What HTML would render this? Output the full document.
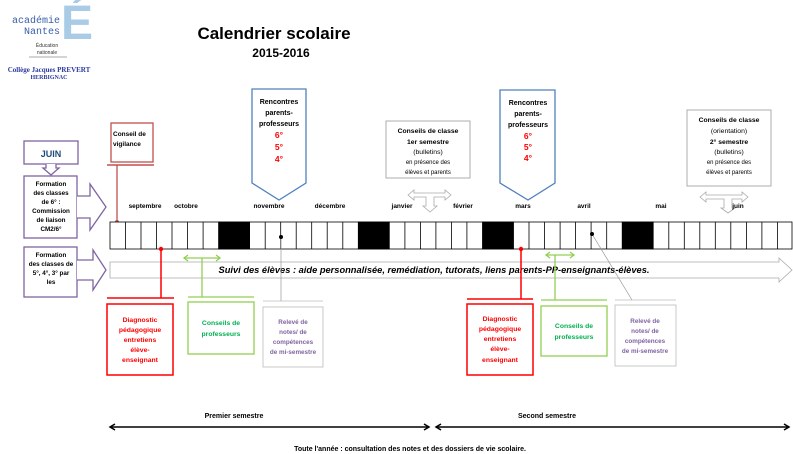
<!DOCTYPE html>
<html><head><meta charset="utf-8"><style>
html,body{margin:0;padding:0;background:#fff;}
svg{display:block;font-family:"Liberation Sans",sans-serif;}
</style></head><body>
<svg width="793" height="454" viewBox="0 0 793 454" xmlns="http://www.w3.org/2000/svg">
<!-- logo -->
<text x="77" y="39" font-size="48" font-weight="bold" fill="#a9cbe6" text-anchor="middle">É</text>
<text x="60" y="23" font-size="10" fill="#3a5fa8" text-anchor="end" font-family="Liberation Mono,monospace">académie</text>
<text x="60" y="34" font-size="10" fill="#3a5fa8" text-anchor="end" font-family="Liberation Mono,monospace">Nantes</text>
<text x="47" y="47" font-size="5" fill="#333" text-anchor="middle">Éducation</text>
<text x="47" y="54" font-size="5" fill="#333" text-anchor="middle">nationale</text>
<line x1="29" y1="57" x2="67" y2="57" stroke="#555" stroke-width="0.6"/>
<text x="49" y="72" font-size="7" font-weight="bold" fill="#2b3a9e" text-anchor="middle" font-family="Liberation Serif,serif">Collège Jacques PREVERT</text>
<text x="49" y="79" font-size="6" font-weight="bold" fill="#2b3a9e" text-anchor="middle" font-family="Liberation Serif,serif">HERBIGNAC</text>
<!-- title -->
<text x="274" y="39" font-size="17" font-weight="bold" text-anchor="middle">Calendrier scolaire</text>
<text x="281" y="57" font-size="12" font-weight="bold" text-anchor="middle">2015-2016</text>

<!-- purple boxes -->
<g stroke="#8064a2" stroke-width="1.3" fill="#fff">
<rect x="24" y="141" width="54" height="23"/>
<path d="M46 164 L46 168 L43 168 L51 175 L59 168 L56 168 L56 164"/>
<rect x="24" y="176" width="53" height="62"/>
<path d="M77 196 L90 196 L90 184 L106 207 L90 230 L90 218 L77 218"/>
<rect x="24" y="247" width="53" height="50"/>
<path d="M77 260 L93 260 L93 250 L106 270 L93 290 L93 280 L77 280"/>
</g>
<text x="51" y="157" font-size="9" font-weight="bold" fill="#1f497d" text-anchor="middle">JUIN</text>
<g font-size="6.3" font-weight="bold" text-anchor="middle">
<text x="51" y="186">Formation</text><text x="51" y="195">des classes</text><text x="51" y="204">de 6° :</text><text x="51" y="213">Commission</text><text x="51" y="222">de liaison</text><text x="51" y="231">CM2/6°</text>
<text x="51" y="257">Formation</text><text x="51" y="266">des classes de</text><text x="51" y="275">5°, 4°, 3° par</text><text x="51" y="284">les</text>
</g>

<!-- conseil de vigilance -->
<rect x="111" y="123" width="42" height="39" fill="#fff" stroke="#c0504d" stroke-width="1.3"/>
<line x1="107" y1="165" x2="154" y2="165" stroke="#c0504d" stroke-width="1.5"/>
<line x1="117" y1="165" x2="117" y2="222" stroke="#c0504d" stroke-width="1.3"/>
<circle cx="117" cy="222" r="2" fill="#c0504d"/>
<text x="113" y="136" font-size="6.5" font-weight="bold">Conseil de</text>
<text x="113" y="146" font-size="6.5" font-weight="bold">vigilance</text>

<!-- rencontres -->
<g stroke="#4f81bd" stroke-width="1.3" fill="#fff">
<path d="M252 89 L306 89 L306 183 L279 200 L252 183 Z"/>
<path d="M500 90 L555 90 L555 183 L528 200 L500 183 Z"/>
</g>
<g font-size="7" font-weight="bold" text-anchor="middle">
<text x="279" y="104">Rencontres</text><text x="279" y="115">parents-</text><text x="279" y="126">professeurs</text>
<text x="528" y="105">Rencontres</text><text x="528" y="116">parents-</text><text x="528" y="127">professeurs</text>
</g>
<g font-size="8.5" font-weight="bold" fill="#ff0000" text-anchor="middle">
<text x="279" y="138">6°</text><text x="279" y="150">5°</text><text x="279" y="162">4°</text>
<text x="528" y="139">6°</text><text x="528" y="150">5°</text><text x="528" y="161">4°</text>
</g>

<!-- conseils de classe -->
<rect x="386" y="121" width="84" height="57" fill="#fff" stroke="#999" stroke-width="0.8"/>
<rect x="687" y="110" width="84" height="76" fill="#fff" stroke="#999" stroke-width="0.8"/>
<g text-anchor="middle">
<text x="428" y="133" font-size="6.8" font-weight="bold">Conseils de classe</text>
<text x="428" y="144" font-size="6.8" font-weight="bold">1er semestre</text>
<text x="428" y="154" font-size="6.8">(bulletins)</text>
<text x="428" y="164" font-size="6">en présence des</text>
<text x="428" y="174" font-size="6">élèves et parents</text>
<text x="729" y="122" font-size="6.8" font-weight="bold">Conseils de classe</text>
<text x="729" y="133" font-size="6.8">(orientation)</text>
<text x="729" y="144" font-size="6.8" font-weight="bold">2° semestre</text>
<text x="729" y="154" font-size="6.8">(bulletins)</text>
<text x="729" y="164" font-size="6">en présence des</text>
<text x="729" y="174" font-size="6">élèves et parents</text>
</g>
<!-- small hollow arrows -->
<g fill="#fff" stroke="#aaa" stroke-width="0.8">
<path d="M408 195 L414 190 L414 193 L445 193 L445 190 L451 195 L445 200 L445 197 L434 197 L434 206 L437 206 L430 212 L423 206 L426 206 L426 197 L414 197 L414 200 Z"/>
<path d="M700 197 L706 192 L706 195 L742 195 L742 192 L748 197 L742 202 L742 199 L732 199 L732 208 L735 208 L728 213 L721 208 L724 208 L724 199 L706 199 L706 202 Z"/>
</g>

<!-- months -->
<g font-size="6.5" font-weight="bold" text-anchor="middle">
<text x="145" y="208">septembre</text><text x="186" y="208">octobre</text><text x="269" y="208">novembre</text><text x="330" y="208">décembre</text>
<text x="402" y="208">janvier</text><text x="463" y="208">février</text><text x="523" y="208">mars</text><text x="584" y="208">avril</text><text x="661" y="208">mai</text><text x="738" y="208">juin</text>
</g>

<!-- timeline -->
<g stroke="#000" stroke-width="0.8">
<rect x="110" y="222" width="682" height="27" fill="#fff"/>
<rect x="218.6" y="222" width="31" height="27" fill="#000"/>
<rect x="358.3" y="222" width="31" height="27" fill="#000"/>
<rect x="482.5" y="222" width="31" height="27" fill="#000"/>
<rect x="622.2" y="222" width="31" height="27" fill="#000"/>
<path d="M125.5 222v27M141 222v27M156.5 222v27M172 222v27M187.6 222v27M203.1 222v27M234.1 222v27M265.2 222v27M280.7 222v27M296.2 222v27M311.7 222v27M327.2 222v27M342.8 222v27M373.8 222v27M404.9 222v27M420.4 222v27M435.9 222v27M451.4 222v27M466.9 222v27M498 222v27M529 222v27M544.6 222v27M560.1 222v27M575.6 222v27M591.1 222v27M606.7 222v27M637.7 222v27M668.8 222v27M684.3 222v27M699.8 222v27M715.3 222v27M730.8 222v27M746.4 222v27M761.9 222v27M777.4 222v27"/>
</g>

<!-- suivi arrow -->
<path d="M110 262 L779 262 L779 258 L792 270 L779 282 L779 278 L110 278 Z" fill="#fff" stroke="#aaa" stroke-width="0.8"/>
<text x="434" y="273" font-size="9.3" font-weight="bold" font-style="italic" text-anchor="middle">Suivi des élèves :  aide personnalisée, remédiation, tutorats, liens parents-PP-enseignants-élèves.</text>

<!-- semester 1 lower -->
<line x1="161" y1="249" x2="161" y2="298" stroke="#ff0000" stroke-width="1.5"/>
<circle cx="161" cy="249" r="2.2" fill="#ff0000"/>
<line x1="107" y1="298" x2="174" y2="298" stroke="#ff0000" stroke-width="1.5"/>
<rect x="107" y="304" width="66" height="71" fill="#fff" stroke="#ff0000" stroke-width="1.5"/>
<g stroke="#92d050" stroke-width="1.3" fill="none">
<line x1="184" y1="258" x2="220" y2="258"/><path d="M188 255 L184 258 L188 261 M216 255 L220 258 L216 261"/>
<line x1="202" y1="258" x2="202" y2="297"/><line x1="188" y1="297" x2="254" y2="297"/>
<rect x="188" y="302" width="66" height="52"/>
</g>
<line x1="281" y1="237" x2="281" y2="301" stroke="#999" stroke-width="0.7"/>
<circle cx="281" cy="237" r="2" fill="#000"/>
<line x1="263" y1="301" x2="323" y2="301" stroke="#bbb" stroke-width="0.8"/>
<rect x="263" y="307" width="60" height="60" fill="#fff" stroke="#bbb" stroke-width="0.8"/>

<!-- semester 2 lower -->
<line x1="521" y1="249" x2="521" y2="299" stroke="#ff0000" stroke-width="1.5"/>
<circle cx="521" cy="249" r="2.2" fill="#ff0000"/>
<line x1="467" y1="299" x2="533" y2="299" stroke="#ff0000" stroke-width="1.5"/>
<rect x="467" y="304" width="66" height="71" fill="#fff" stroke="#ff0000" stroke-width="1.5"/>
<g stroke="#92d050" stroke-width="1.3" fill="none">
<line x1="546" y1="255" x2="574" y2="255"/><path d="M550 252 L546 255 L550 258 M570 252 L574 255 L570 258"/>
<line x1="555" y1="255" x2="555" y2="300"/><line x1="541" y1="300" x2="607" y2="300"/>
<rect x="541" y="306" width="66" height="50"/>
</g>
<line x1="592" y1="234" x2="632" y2="300" stroke="#999" stroke-width="0.7"/>
<circle cx="592" cy="234" r="2" fill="#000"/>
<line x1="615" y1="300" x2="676" y2="300" stroke="#bbb" stroke-width="0.8"/>
<rect x="615" y="305" width="61" height="61" fill="#fff" stroke="#bbb" stroke-width="0.8"/>

<g font-size="6.8" font-weight="bold" text-anchor="middle">
<g fill="#ff0000">
<text x="140" y="322">Diagnostic</text><text x="140" y="332">pédagogique</text><text x="140" y="342">entretiens</text><text x="140" y="352">élève-</text><text x="140" y="362">enseignant</text>
<text x="500" y="321">Diagnostic</text><text x="500" y="331">pédagogique</text><text x="500" y="341">entretiens</text><text x="500" y="351">élève-</text><text x="500" y="362">enseignant</text>
</g>
<g fill="#00b050">
<text x="221" y="325">Conseils de</text><text x="221" y="336">professeurs</text>
<text x="574" y="328">Conseils de</text><text x="574" y="339">professeurs</text>
</g>
<g fill="#8064a2" font-size="6.3">
<text x="293" y="324">Relevé de</text><text x="293" y="334">notes/ de</text><text x="293" y="344">compétences</text><text x="293" y="354">de mi-semestre</text>
<text x="645" y="323">Relevé de</text><text x="645" y="333">notes/ de</text><text x="645" y="343">compétences</text><text x="645" y="353">de mi-semestre</text>
</g>
</g>

<!-- semesters -->
<text x="234" y="418" font-size="7" font-weight="bold" text-anchor="middle">Premier semestre</text>
<text x="547" y="418" font-size="7" font-weight="bold" text-anchor="middle">Second semestre</text>
<g stroke="#000" stroke-width="1.5" fill="none">
<line x1="110" y1="427" x2="429" y2="427"/><path d="M115 424 L110 427 L115 430 M424 424 L429 427 L424 430"/>
<line x1="436" y1="427" x2="789" y2="427"/><path d="M441 424 L436 427 L441 430 M784 424 L789 427 L784 430"/>
</g>
<text x="410" y="451" font-size="7" font-weight="bold" text-anchor="middle">Toute l'année : consultation des notes et des dossiers de vie scolaire.</text>
</svg>
</body></html>
